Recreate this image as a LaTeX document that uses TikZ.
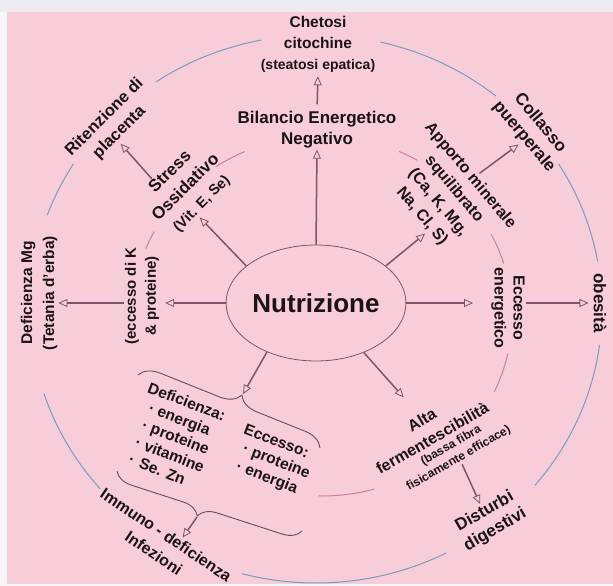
\documentclass[tikz,border=0pt]{standalone}
\usepackage{fontspec}
\setmainfont{Liberation Sans}
\usepackage{tikz}
\usetikzlibrary{arrows.meta,shapes.geometric,decorations.pathreplacing}
\definecolor{PinkBG}{RGB}{246,205,216}
\definecolor{TopBand}{RGB}{236,236,241}
\definecolor{SideBand}{RGB}{247,246,249}
\definecolor{OuterRing}{RGB}{125,155,188}
\definecolor{InnerRing}{RGB}{206,128,152}
\definecolor{ArrowMauve}{RGB}{128,84,104}
\definecolor{BraceMauve}{RGB}{112,72,92}
\definecolor{DarkText}{RGB}{28,18,24}

\begin{document}
\begin{tikzpicture}[x=1pt,y=-1pt,
  lbl/.style={font=\bfseries\fontsize{16}{21}\selectfont,align=center,inner sep=1pt,text=DarkText},
  arr/.style={draw=ArrowMauve,line width=1.5pt,-{Triangle[open,length=9pt,width=8pt,line width=0.8pt]}},
  brc/.style={draw=BraceMauve,line width=0.9pt,decorate},
  outer/.style={draw=OuterRing,line width=1pt},
  inner/.style={draw=InnerRing,line width=1pt}
]
\useasboundingbox (0,0) rectangle (613,586);
\fill[SideBand] (0,0) rectangle (613,586);
\fill[TopBand] (0,0) rectangle (613,12);
\fill[PinkBG] (7,12) rectangle (613,584);

% rings
\foreach \a/\b in {-101/-124,-51/-77,-10/-32,40/7.5,105/63,-198/-221,-148/-160}
  \draw[outer] (316,309) ++(\a:286 and 274) arc[start angle=\a,end angle=\b,x radius=286,y radius=274];
\foreach \a/\b in {-114/-124,-60/-66,-17/-27,25/12,91/74,-152/-158}
  \draw[inner] (322,316) ++(\a:190 and 180) arc[start angle=\a,end angle=\b,x radius=190,y radius=180];

% nodes
\node[ellipse,draw=ArrowMauve,line width=0.8pt,minimum width=162pt,minimum height=116pt,inner sep=0pt,
  font=\bfseries\fontsize{26}{30}\selectfont,text=DarkText] (nut) at (316,303) {Nutrizione};
\node[lbl,font=\bfseries\fontsize{17}{21}\selectfont] (bil) at (317,130) {Bilancio Energetico\\Negativo};
\node[lbl,font=\bfseries\fontsize{15.5}{21}\selectfont] (chet) at (318,44) {Chetosi\\citochine\\{\fontsize{14}{16}\selectfont(steatosi epatica)}};
\node[lbl,rotate=45,font=\bfseries\fontsize{17}{22}\selectfont] (stress) at (186,188) {Stress\\Ossidativo\\{\fontsize{14.5}{16}\selectfont(Vit. E, Se)}};
\node[lbl,rotate=45,font=\bfseries\fontsize{16.5}{21}\selectfont] (rit) at (112,125) {Ritenzione di\\placenta};
\node[lbl,rotate=90,font=\bfseries\fontsize{15.5}{22}\selectfont] (defmg) at (39,293) {Deficienza Mg\\(Tetania d'erba)};
\node[lbl,rotate=90,font=\bfseries\fontsize{15}{20}\selectfont] (ecck) at (142,296) {(eccesso di K\\\& proteine)};
\node[lbl,rotate=-50] (app) at (446,196) {Apporto minerale\\squilibrato\\(Ca, K, Mg,\\Na, Cl, S)};
\node[lbl,rotate=-50,font=\bfseries\fontsize{17}{21}\selectfont] (col) at (532,130) {Collasso\\puerperale};
\node[lbl,rotate=-90,font=\bfseries\fontsize{16}{19}\selectfont] (eccen) at (508,308) {Eccesso\\energetico};
\node[lbl,rotate=-90,font=\bfseries\fontsize{17}{19}\selectfont] (obes) at (600,303) {obesità};
\node[lbl,rotate=30] (alta) at (427,429) {Alta\\fermentescibilità};
\node[lbl,rotate=30,font=\bfseries\fontsize{12}{15}\selectfont] (fibra) at (455,452) {(bassa fibra\\fisicamente efficace)};
\node[lbl,rotate=30,font=\bfseries\fontsize{17}{21}\selectfont] (dist) at (490,521) {Disturbi\\digestivi};
\node[lbl,rotate=-34,font=\bfseries\fontsize{16}{22}\selectfont] (imm) at (160,544) {Immuno - deficienza\\Infezioni};
\node[lbl,rotate=-21,align=left,anchor=north west,font=\bfseries\fontsize{15.5}{18.5}\selectfont] (defic) at (150,380)
  {Deficienza:\\\hspace*{8pt}· energia\\\hspace*{8pt}· proteine\\\hspace*{8pt}· vitamine\\\hspace*{8pt}·\hspace{6pt}Se. Zn};
\node[lbl,rotate=-21,align=left,anchor=north west,font=\bfseries\fontsize{15.5}{18.5}\selectfont] (ecces) at (246,422)
  {Eccesso:\\\hspace*{6pt}· proteine\\\hspace*{6pt}· energia};

% braces
\draw[brc,decoration={brace,amplitude=20pt,aspect=0.53}] (138,375) -- (320,448);
\coordinate (topcusp) at (243,394);
\draw[brc,decoration={brace,amplitude=18pt,aspect=0.536}] (302,531) -- (117,471);
\coordinate (botcusp) at (197,517);

% arrows
\draw[arr] (nut.north) -- (bil.south);
\draw[arr,shorten <=6pt,shorten >=3pt] (bil.north) -- (chet.south);
\draw[arr] (nut.152) -- (stress.250);
\draw[arr] (stress.120) -- (rit.250);
\draw[arr,shorten >=5pt] (nut.west) -- (nut.west -| ecck.south);
\draw[arr] (nut.west -| ecck.north) -- (nut.west -| defmg.south);
\draw[arr] (nut.28) -- (app.-69);
\draw[arr] (app.84) -- (col.-83);
\draw[arr,shorten >=17pt] (nut.east) -- (nut.east -| eccen.south);
\draw[arr,shorten >=4pt] (nut.east -| eccen.north) -- (nut.east -| obes.south);
\draw[arr,shorten >=22pt] (nut.-46) -- (alta.north);
\draw[arr] (fibra.south) -- (dist.north);
\draw[arr] (nut.-135) -- (topcusp);
\draw[arr] (botcusp) -- (imm.50);
\end{tikzpicture}
\end{document}
